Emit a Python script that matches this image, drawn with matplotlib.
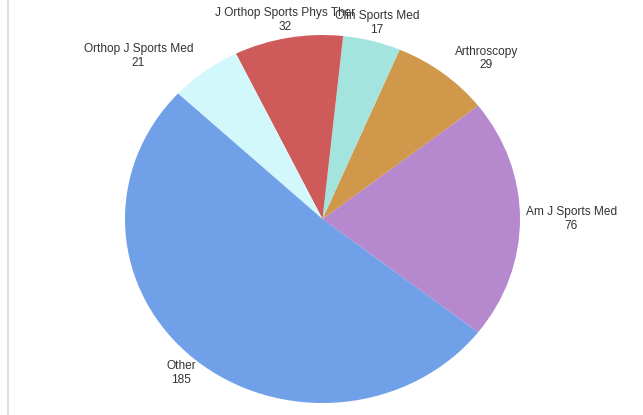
import matplotlib
matplotlib.use("Agg")
import matplotlib.pyplot as plt
import numpy as np

plt.rcParams["font.family"] = ["Liberation Sans", "DejaVu Sans"]

journals = [
    "Am J Sports Med",
    "Arthroscopy",
    "Clin Sports Med",
    "J Orthop Sports Phys Ther",
    "Orthop J Sports Med",
    "Other",
]
counts = [76, 29, 17, 32, 21, 185]
colors = ["#B689CE", "#CF984B", "#A4E4DF", "#CF5A5A", "#D3F8FC", "#70A0E8"]
label_ha = ["left", "left", "center", "center", "right", "center"]
label_dist = [1.03, 1.1, 1.1, 1.1, 1.1, 1.1]

fig = plt.figure(figsize=(6.43, 4.15), dpi=100)
ax = fig.add_axes([0.1944, 0.0289, 0.6143, 0.8867])

labels = ["{}\n{}".format(j, c) for j, c in zip(journals, counts)]
wedges, texts = ax.pie(
    counts,
    labels=labels,
    colors=colors,
    startangle=-38,
    counterclock=True,
    labeldistance=1.1,
    wedgeprops=dict(linewidth=0),
    textprops=dict(fontsize=8.6, color="#333333"),
)
for w, t, ha, d in zip(wedges, texts, label_ha, label_dist):
    mid = np.deg2rad((w.theta1 + w.theta2) / 2)
    t.set_position((d * np.cos(mid), d * np.sin(mid)))
    t.set_ha(ha)
    t.set_multialignment("center")
    t.set_clip_on(False)

ax.set_aspect("auto")
ax.set_xlim(-1, 1)
ax.set_ylim(-1, 1)

# thin border line on the left
fig.add_artist(plt.Line2D([0.0124, 0.0124], [0, 1], transform=fig.transFigure,
                          color="#d9d9d9", linewidth=1.2))

fig.savefig("out.png", dpi=100)
